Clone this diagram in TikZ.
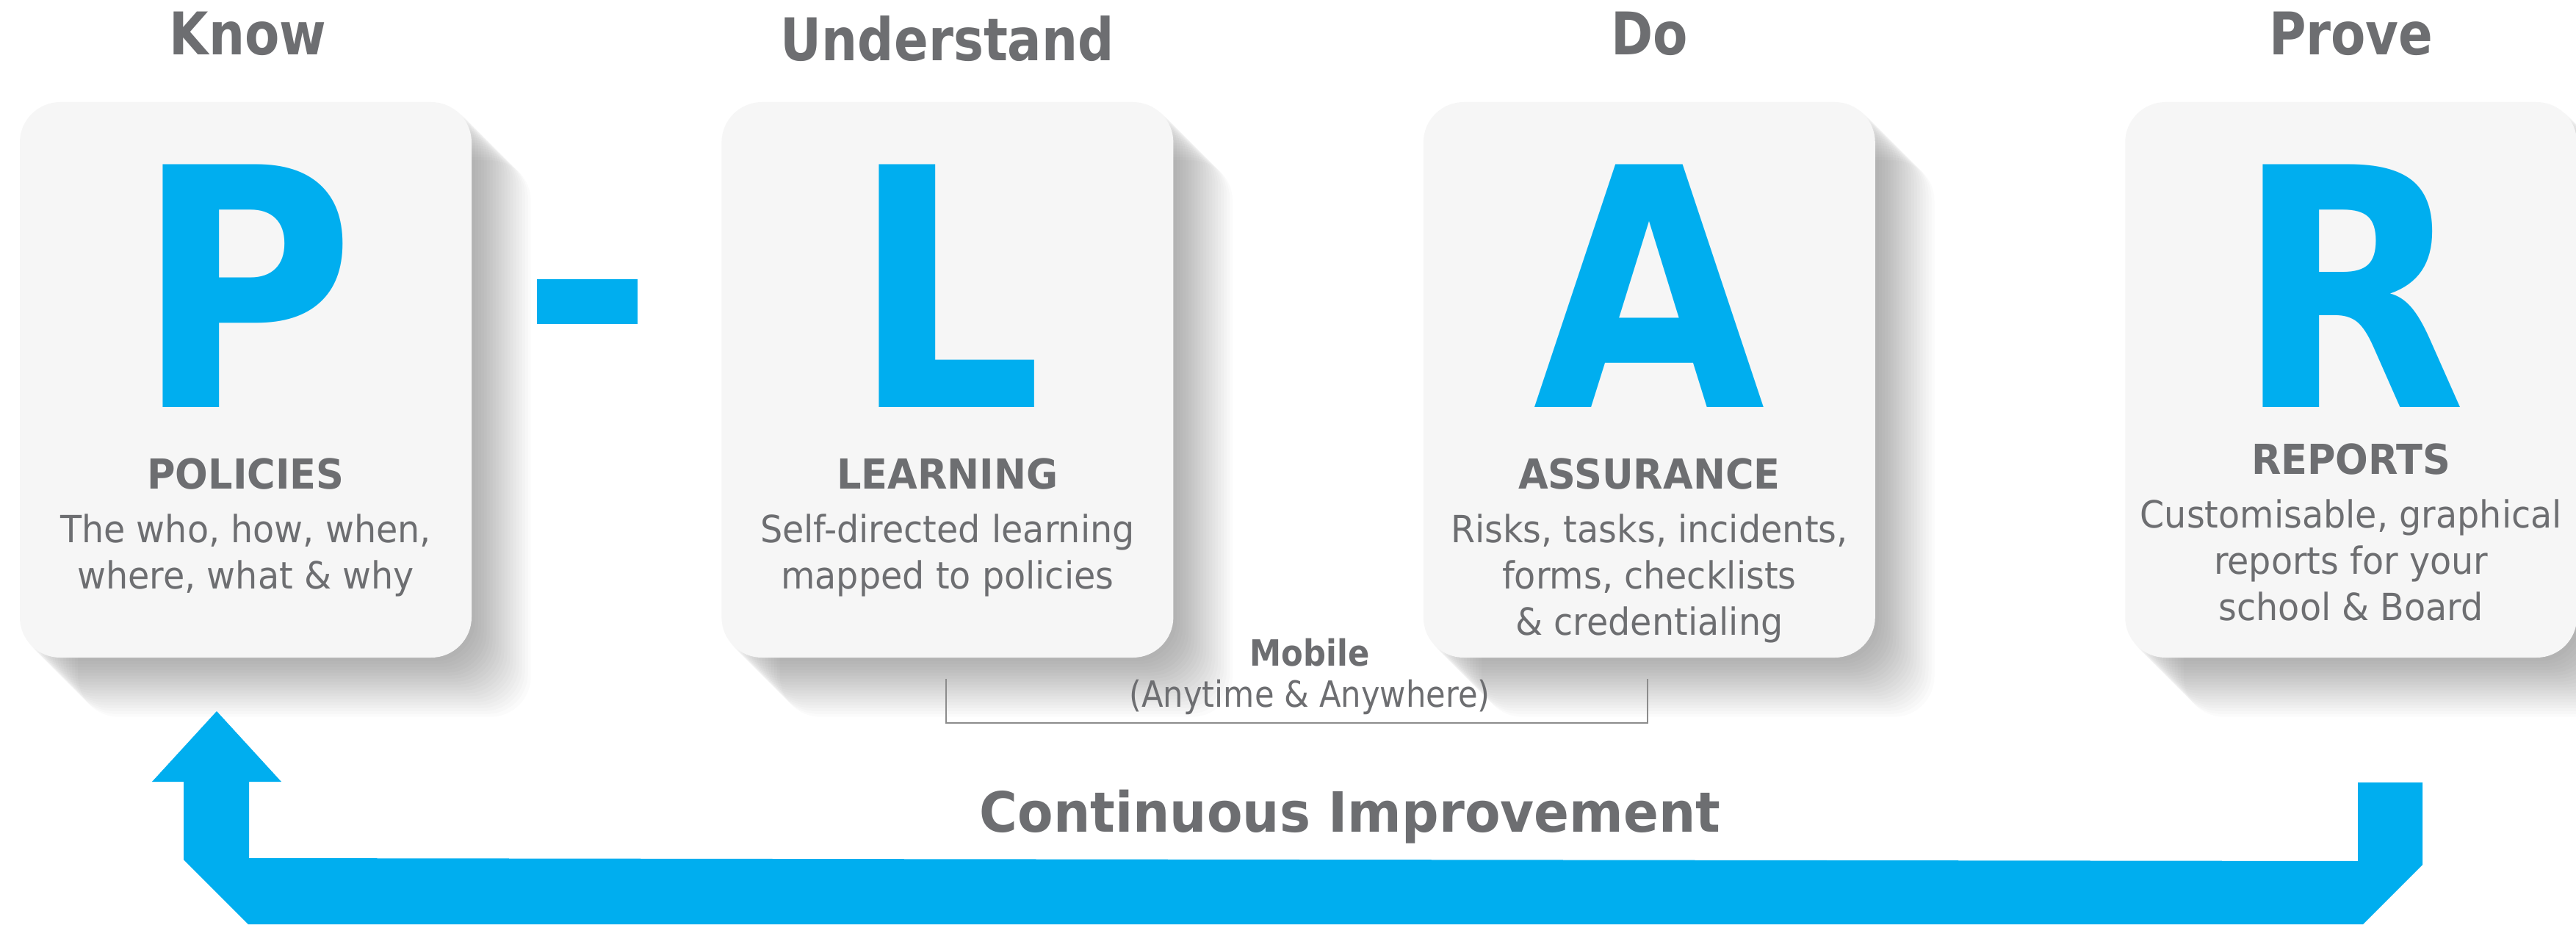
\documentclass[tikz,border=0pt]{standalone}
\usepackage{fontspec}
\setmainfont{DejaVu Sans}
\newfontfamily\mobfont{DejaVu Sans}[FakeStretch=0.88]
\newfontfamily\narrowfont{DejaVu Sans}[FakeStretch=0.86]
\newfontfamily\bodyfont{DejaVu Sans}[FakeStretch=0.935]
\newfontfamily\letterfont{DejaVu Sans}[FakeStretch=0.9]
\usepackage{tikz}
\usetikzlibrary{positioning,backgrounds}
\definecolor{plarcyan}{HTML}{00AEEF}
\definecolor{plargray}{HTML}{6D6E71}
\definecolor{plarfill}{HTML}{F6F6F6}
\definecolor{linegray}{HTML}{8C8C8C}
\tikzset{
    card/.style={
           rectangle,
           rounded corners=0.55cm,
           fill=plarfill,
           minimum width=6.15cm,
           minimum height=7.56cm,
           inner sep=0pt,
           },
}
\tikzset{
    bigletter/.style={
           text=plarcyan,
           inner sep=0pt,
           anchor=base,
           font=\letterfont\fontsize{129}{129}\selectfont\bfseries,
           },
}
\tikzset{
    phase/.style={
           text=plargray,
           inner sep=0pt,
           anchor=base,
           font=\narrowfont\fontsize{22.8}{28}\selectfont\bfseries,
           },
}
\tikzset{
    blurb/.style={
           text=plargray,
           inner sep=0pt,
           anchor=north,
           align=center,
           font=\bodyfont\fontsize{14.5}{18}\selectfont,
           },
}
\tikzset{
    mobtext/.style={
           text=plargray,
           inner sep=0pt,
           anchor=base,
           font=\mobfont\fontsize{14}{17}\selectfont,
           },
}
\newcommand{\headline}[1]{{\fontsize{16}{18}\selectfont\bfseries #1}\\[2.6pt]}

\begin{document}
\begin{tikzpicture}
\useasboundingbox (0,0) rectangle (35.07,-12.59);
\node[card](p) at (3.345,-5.17){};
\node[card,right=3.39cm of p](l){};
\node[card,right=3.39cm of l](a){};
\node[card,right=3.39cm of a](r){};
\begin{scope}[on background layer]
\fill[white] (0,0) rectangle (35.07,-12.59);
\foreach \b in {p,l,a,r}
  \foreach \k in {1,...,20}
    \fill[black,opacity=0.015,rounded corners=0.55cm]
      ([shift={(\k*0.04,-\k*0.04)}]\b.south west) rectangle ([shift={(\k*0.04,-\k*0.04)}]\b.north east);
\end{scope}
\node[bigletter](pl) at ([yshift=-4.16cm]p.north){P};
\node[bigletter](ll) at ([yshift=-4.16cm]l.north){L};
\node[bigletter](al) at ([yshift=-4.16cm]a.north){A};
\node[bigletter](rl) at ([yshift=-4.16cm]r.north){R};
\node[phase](know) at ([xshift=0.03cm,yshift=0.64cm]p.north){Know};
\node[phase](understand) at ([yshift=0.56cm]l.north){Understand};
\node[phase](do) at ([yshift=0.64cm]a.north){Do};
\node[phase](prove) at ([yshift=0.64cm]r.north){Prove};
\node[blurb](pt) at ([yshift=-4.85cm]p.north){\headline{POLICIES}The who, how, when,\\where, what \& why};
\node[blurb](lt) at ([yshift=-4.85cm]l.north){\headline{LEARNING}Self-directed learning\\mapped to policies};
\node[blurb](at) at ([yshift=-4.85cm]a.north){\headline{ASSURANCE}Risks, tasks, incidents,\\forms, checklists\\\& credentialing};
\node[blurb](rt) at ([yshift=-4.65cm]r.north){\headline{REPORTS}Customisable, graphical\\reports for your\\school \& Board};
\node[fill=plarcyan,minimum width=1.37cm,minimum height=0.61cm,inner sep=0pt](dash) at (7.995,-4.105){};
\node[mobtext](mob) at (17.83,-9.06){\bfseries Mobile};
\node[mobtext](mobsub) at (17.83,-9.62){(Anytime \& Anywhere)};
\coordinate (mobl) at (12.88,-9.24);
\coordinate (mobr) at (22.43,-9.24);
\draw[linegray,line width=0.8pt] (mobl) -- ++(0,-0.6) -| (mobr);
\fill[plarcyan] (2.95,-9.68) -- (3.83,-10.64) -- (3.39,-10.64) -- (3.39,-11.68) -- (32.10,-11.72)
  -- (32.10,-10.65) -- (32.98,-10.65) -- (32.98,-11.77) -- (32.17,-12.58) -- (3.38,-12.58)
  -- (2.50,-11.70) -- (2.50,-10.64) -- (2.07,-10.64) -- cycle;
\node[phase,font=\bodyfont\fontsize{21.5}{25}\selectfont\bfseries](ci) at (18.38,-11.32){Continuous Improvement};
\end{tikzpicture}
\end{document}
